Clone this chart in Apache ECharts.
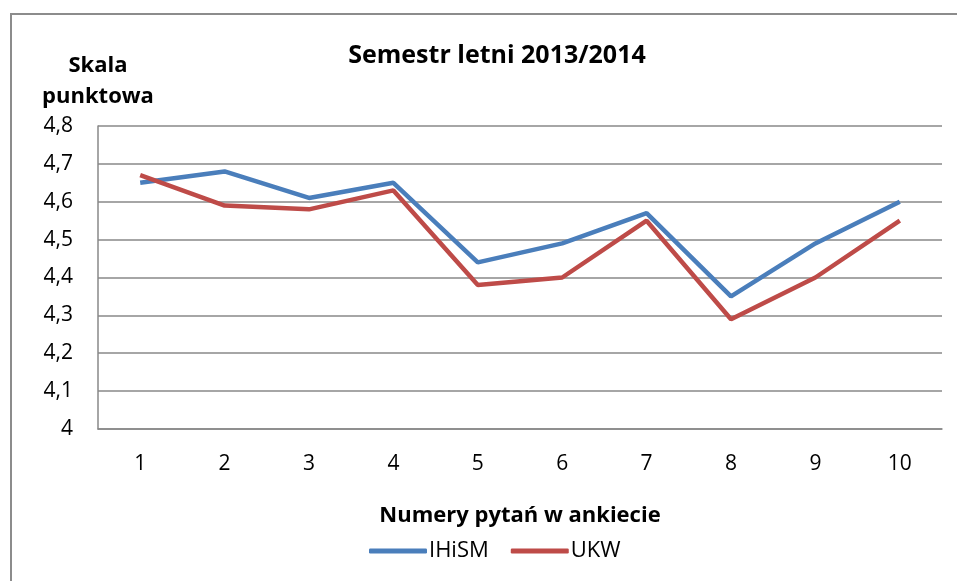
<!DOCTYPE html>
<html>
<head>
<meta charset="utf-8">
<style>
  html, body { margin: 0; padding: 0; background: #fff; }
  #chart { width: 957px; height: 581px; }
</style>
<script src="https://cdn.jsdelivr.net/npm/echarts@6/dist/echarts.min.js"></script>
</head>
<body>
<div id="chart"></div>
<script>
// question numbers
const questions = ['1', '2', '3', '4', '5', '6', '7', '8', '9', '10']
// mean scores
const ihismValues = [4.65, 4.68, 4.61, 4.65, 4.44, 4.49, 4.57, 4.35, 4.49, 4.60]
const ukwValues = [4.67, 4.59, 4.58, 4.63, 4.38, 4.40, 4.55, 4.29, 4.40, 4.55]

const font = '"Open Sans", Lato, sans-serif'
const gray = '#888888'

const chart = echarts.init(document.getElementById('chart'))

const option = {
  animation: false,
  textStyle: { fontFamily: font },
  graphic: [
    {
      type: 'rect',
      shape: { x: 11, y: 14, width: 1000, height: 1000 },
      style: { fill: 'none', stroke: '#8c8c8c', lineWidth: 2 },
      silent: true
    }
  ],
  title: {
    text: 'Semestr letni 2013/2014',
    left: 492,
    textAlign: 'center',
    top: 38,
    textStyle: { fontFamily: font, fontSize: 25, fontWeight: 'bold', color: '#000' }
  },
  legend: {
    data: ['IHiSM', 'UKW'],
    left: 364,
    top: 535,
    itemWidth: 58,
    itemHeight: 5,
    itemGap: 22,
    textStyle: { fontFamily: font, fontSize: 22, color: '#000', padding: [0, 0, 0, -3] },
    icon: 'roundRect'
  },
  grid: {
    left: 98,
    right: 15,
    top: 126,
    bottom: 152
  },
  xAxis: {
    type: 'category',
    data: questions,
    boundaryGap: true,
    name: 'Numery pytań w ankiecie',
    nameLocation: 'middle',
    nameGap: 76,
    nameTextStyle: { fontFamily: font, fontSize: 22, fontWeight: 'bold', color: '#000' },
    axisLine: { lineStyle: { color: gray, width: 1.5 } },
    axisTick: { show: false },
    axisLabel: { fontFamily: font, fontSize: 21, color: '#000', margin: 25 },
    splitLine: { show: false }
  },
  yAxis: {
    type: 'value',
    min: 4,
    max: 4.8,
    interval: 0.1,
    name: 'Skala\npunktowa',
    nameLocation: 'end',
    nameGap: 14,
    nameTextStyle: {
      fontFamily: font, fontSize: 22, fontWeight: 'bold', color: '#000',
      lineHeight: 31, align: 'center'
    },
    axisLine: { show: true, lineStyle: { color: gray, width: 1.5 } },
    axisTick: { show: false },
    axisLabel: {
      fontFamily: font, fontSize: 21, color: '#000', margin: 25,
      formatter: v => (Math.round(v * 10) / 10).toString().replace('.', ',')
    },
    splitLine: { lineStyle: { color: gray, width: 1.5 } }
  },
  series: [
    {
      name: 'IHiSM',
      type: 'line',
      data: ihismValues,
      showSymbol: false,
      symbol: 'none',
      lineStyle: { color: '#4a7ebb', width: 4.5 },
      itemStyle: { color: '#4a7ebb' }
    },
    {
      name: 'UKW',
      type: 'line',
      data: ukwValues,
      showSymbol: false,
      symbol: 'none',
      lineStyle: { color: '#be4b48', width: 4.5 },
      itemStyle: { color: '#be4b48' }
    }
  ]
}

chart.setOption(option)
</script>
</body>
</html>
